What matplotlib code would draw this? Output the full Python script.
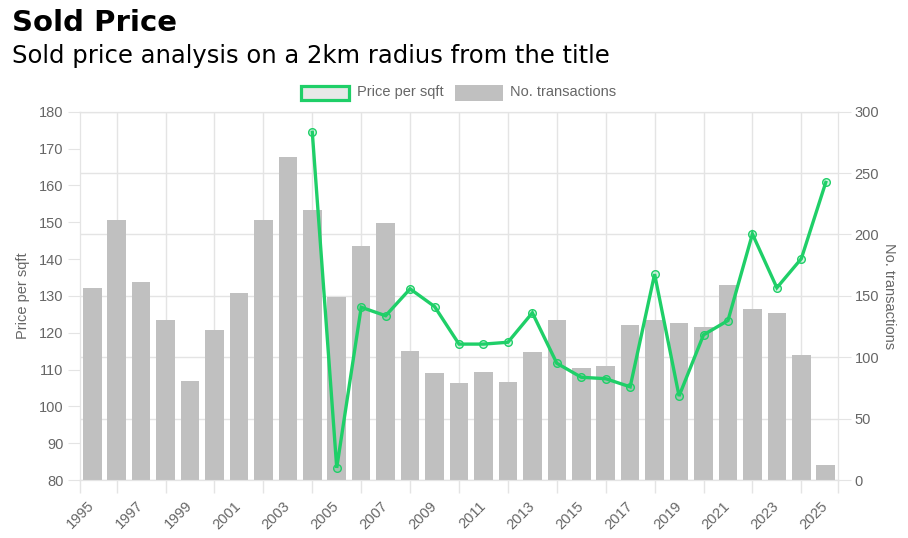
import matplotlib
matplotlib.use("Agg")
import matplotlib.pyplot as plt
from matplotlib.patches import Rectangle
import numpy as np

# data
years = list(range(1995, 2026))
transactions = [156, 212, 161, 130, 81, 122, 152, 212, 263, 220, 149, 191, 209, 105, 87,
                79, 88, 80, 104, 130, 91, 93, 126, 130, 128, 125, 159, 139, 136, 102, 12]
price_years = list(range(2004, 2026))
price_sqft = [174.4, 83.3, 126.9, 124.6, 131.9, 127.1, 116.9, 116.9, 117.4, 125.4, 111.7,
              107.9, 107.5, 105.3, 135.9, 102.8, 119.4, 123.3, 146.8, 132.2, 140.1, 160.8]

GREEN = '#1fcf68'
BAR = '#c0c0c0'
GRID = '#e4e4e4'
TXT = '#666666'
FONT = 'Liberation Sans'

W, H = 908, 538
fig = plt.figure(figsize=(W / 100, H / 100), dpi=100)

# plot area in pixels
left, right, top, bottom = 80, 838, 111.7, 480
ax = fig.add_axes([left / W, 1 - bottom / H, (right - left) / W, (bottom - top) / H])
ax2 = ax.twinx()

x = np.arange(len(years))
ax2.bar(x, transactions, width=0.76, color=BAR, zorder=2)

# vertical grid lines sit behind the bars, on the even years
for gx in x[1::2]:
    ax2.axvline(gx, color=GRID, lw=1, zorder=0)

px = [years.index(y) for y in price_years]
ax.plot(px, price_sqft, color=GREEN, lw=2.4, solid_joinstyle='miter', zorder=5,
        marker='o', markersize=5.5, markerfacecolor=(0.12, 0.81, 0.41, 0.2),
        markeredgecolor=GREEN, markeredgewidth=1.0, clip_on=False)

# line above bars
ax.set_zorder(ax2.get_zorder() + 1)
ax.patch.set_visible(False)

ax.set_xlim(-0.5, len(years) - 0.5)
ax.set_ylim(80, 180)
ax2.set_ylim(0, 300)
ax.set_yticks(np.arange(80, 181, 10))
ax2.set_yticks(np.arange(0, 301, 50))

# labels on odd years, tick marks on the even ones
ax.set_xticks(x[::2])
ax.set_xticklabels([str(y) for y in years[::2]], rotation=45, ha='right',
                   va='center', rotation_mode='anchor', fontsize=10.5, color=TXT,
                   family=FONT)
ax.tick_params(axis='x', which='major', length=0, pad=17)
ax.set_xticks(list(x[1::2]) + [-0.5, len(years) - 0.5], minor=True)
ax.tick_params(axis='x', which='minor', length=9, color=GRID, width=1)

ax.tick_params(axis='y', length=9, color=GRID, labelsize=10.5, labelcolor=TXT, pad=3)
ax2.tick_params(axis='y', length=9, color=GRID, labelsize=10.5, labelcolor=TXT, pad=3)
for t in ax.get_yticklabels() + ax2.get_yticklabels():
    t.set_family(FONT)
ax2.grid(True, axis='y', color=GRID, lw=1, zorder=0)
ax2.set_axisbelow(True)

for a in (ax, ax2):
    for s in a.spines.values():
        s.set_color(GRID)

ax.set_ylabel('Price per sqft', fontsize=10.5, color=TXT, family=FONT, labelpad=6)
ax2.set_ylabel('No. transactions', fontsize=10.5, color=TXT, family=FONT,
               rotation=270, labelpad=12)

# titles
fig.text(12 / W, 1 - 31 / H, 'Sold Price', fontsize=21, fontweight='bold',
         family='DejaVu Sans', va='baseline')
fig.text(12 / W, 1 - 63 / H, 'Sold price analysis on a 2km radius from the title',
         fontsize=17.5, family='DejaVu Sans', va='baseline')

# legend
fig.patches.append(Rectangle((301 / W, 1 - 100 / H), 48 / W, 14 / H, transform=fig.transFigure,
                             facecolor='#e8e8e8', edgecolor=GREEN, lw=2.3))
fig.text(357 / W, 1 - 92 / H, 'Price per sqft', fontsize=10.5, color=TXT, family=FONT,
         va='center')
fig.patches.append(Rectangle((455 / W, 1 - 101 / H), 48 / W, 16 / H, transform=fig.transFigure,
                             facecolor=BAR, edgecolor='none'))
fig.text(510 / W, 1 - 92 / H, 'No. transactions', fontsize=10.5, color=TXT, family=FONT,
         va='center')

fig.savefig('out.png', dpi=100)
plt.close(fig)
